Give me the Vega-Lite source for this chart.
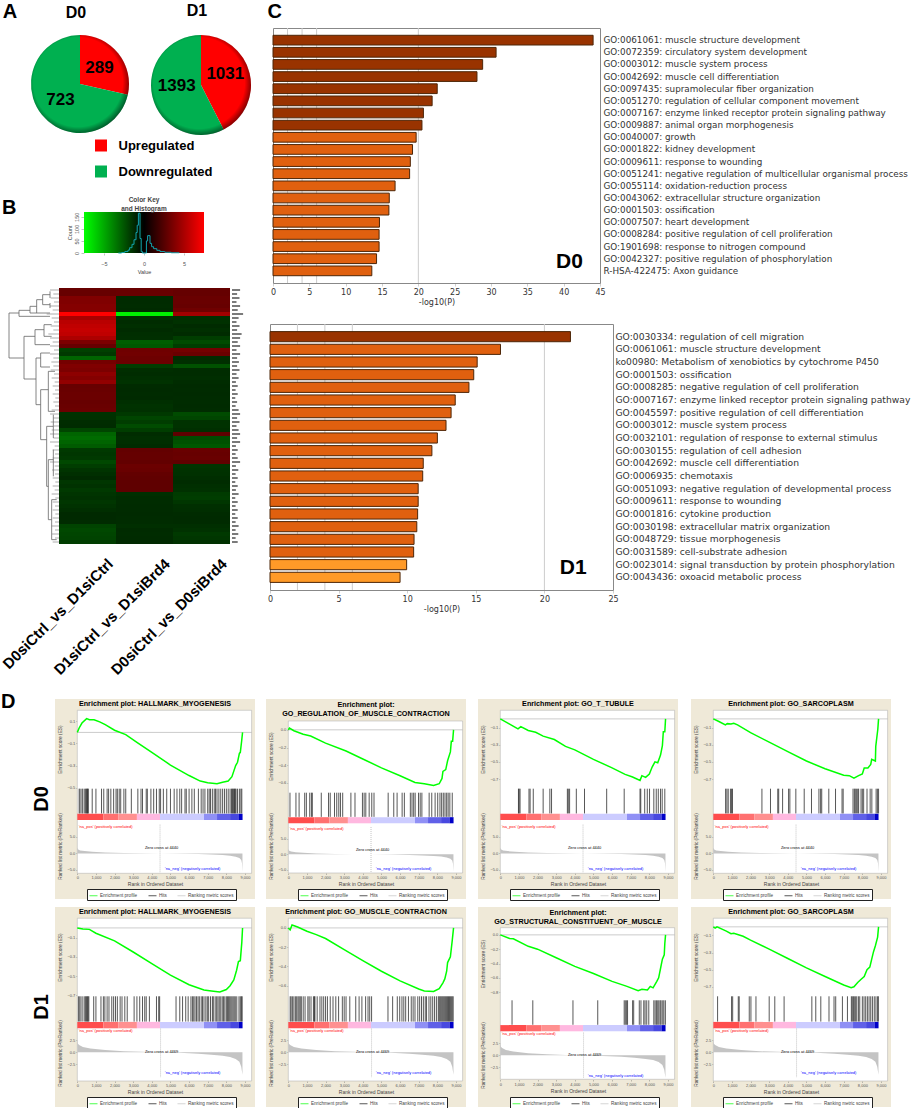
{"$schema":"https://vega.github.io/schema/vega-lite/v6.json","padding":{"left":0,"top":-6,"right":0,"bottom":0},"background":"white","autosize":{"type":"pad"},"bounds":"flush","spacing":0,"resolve":{"scale":{"color":"independent","fill":"independent","theta":"independent"}},
"config":{"view":{"stroke":null},"font":"Liberation Sans","range":{"category":["#00ff00","#111111","#c4c4c4"]},
"legend":{"orient":"none","legendX":32,"legendY":190,"direction":"horizontal","columns":3,"title":null,"fillColor":"#ffffff","strokeColor":"#222222","padding":2,"symbolType":"stroke","symbolSize":64,"labelFontSize":4.6,"labelLimit":100,"symbolStrokeWidth":1,"columnPadding":8,"labelOffset":2,"labelColor":"#444444"},
"axis":{"grid":false,"domain":false,"labelFont":"Liberation Sans","titleFont":"Liberation Sans","labelFontSize":4,"titleFontSize":4.8,"tickSize":1.5,"tickWidth":0.4,"tickColor":"#666666","labelColor":"#555555","titleColor":"#444444","titleFontWeight":"normal","labelPadding":1,"titlePadding":2,"labelOverlap":false,"labelFlush":false},
"title":{"font":"Liberation Sans","fontSize":7.2,"fontWeight":"bold","color":"#000000","offset":0,"lineHeight":9.3}},
"datasets":{"one":[{}],"frame":[{"x":0,"x2":9356}],"zero":[{"r":0,"x":4440},{"r":1,"x":4469}],"keyframe":[{"v":-7.5,"b":7.5,"n":0,"m":170}],
"tag":[{"x":40.8,"t":"GO:0042327: positive regulation of phosphorylation","l":"D0"},{"x":22.1,"t":"GO:0023014: signal transduction by protein phosphorylation","l":"D1"}],
"pie":[{"p":"D0","k":"Upregulated","n":289},{"p":"D0","k":"Downregulated","n":723},{"p":"D1","k":"Upregulated","n":1031},{"p":"D1","k":"Downregulated","n":1393}],
"hist":[{"v":-3.2,"n":0},{"v":-2.8,"n":2},{"v":-2.4,"n":6},{"v":-2,"n":12},{"v":-1.8,"n":22},{"v":-1.5,"n":36},{"v":-1.25,"n":55},{"v":-1,"n":85},{"v":-0.85,"n":115},{"v":-0.7,"n":165},{"v":-0.5,"n":60},{"v":-0.35,"n":6},{"v":-0.2,"n":0},{"v":0.25,"n":0},{"v":0.3,"n":50},{"v":0.45,"n":72},{"v":0.75,"n":40},{"v":0.95,"n":26},{"v":1.2,"n":18},{"v":1.6,"n":11},{"v":2,"n":6},{"v":2.6,"n":3},{"v":3.4,"n":1},{"v":4.4,"n":0}],
"leaf":[{"n":31,"t":150,"e":177},{"n":43,"t":160,"e":177},{"n":55,"t":152,"e":177},{"n":67,"t":162,"e":177},{"n":79,"t":150,"e":177},{"n":91,"t":158,"e":177},{"n":103,"t":140,"e":177},{"n":115,"t":155,"e":177},{"n":127,"t":162,"e":177},{"n":139,"t":152,"e":177},{"n":151,"t":160,"e":177},{"n":163,"t":145,"e":177},{"n":175,"t":150,"e":177},{"n":187,"t":158,"e":177},{"n":199,"t":150,"e":177},{"n":211,"t":162,"e":177},{"n":223,"t":150,"e":177},{"n":235,"t":160,"e":177},{"n":247,"t":154,"e":177},{"n":259,"t":160,"e":177},{"n":271,"t":152,"e":177},{"n":283,"t":162,"e":177},{"n":295,"t":155,"e":177},{"n":307,"t":164,"e":177},{"n":319,"t":158,"e":177},{"n":331,"t":165,"e":177},{"n":343,"t":158,"e":177},{"n":355,"t":166,"e":177},{"n":367,"t":160,"e":177},{"n":379,"t":165,"e":177},{"n":391,"t":155,"e":177},{"n":403,"t":150,"e":177},{"n":415,"t":160,"e":177},{"n":427,"t":152,"e":177},{"n":439,"t":162,"e":177},{"n":451,"t":155,"e":177},{"n":463,"t":150,"e":177},{"n":475,"t":160,"e":177},{"n":487,"t":150,"e":177},{"n":499,"t":164,"e":177},{"n":511,"t":158,"e":177},{"n":523,"t":165,"e":177},{"n":535,"t":158,"e":177},{"n":547,"t":150,"e":177},{"n":559,"t":164,"e":177},{"n":571,"t":156,"e":177},{"n":583,"t":165,"e":177},{"n":595,"t":158,"e":177},{"n":607,"t":166,"e":177},{"n":619,"t":158,"e":177},{"n":631,"t":164,"e":177},{"n":643,"t":155,"e":177},{"n":655,"t":166,"e":177},{"n":667,"t":158,"e":177},{"n":679,"t":165,"e":177},{"n":691,"t":158,"e":177},{"n":703,"t":166,"e":177},{"n":715,"t":158,"e":177},{"n":727,"t":165,"e":177},{"n":739,"t":155,"e":177},{"n":751,"t":165,"e":177},{"n":763,"t":156,"e":177},{"n":775,"t":165,"e":177},{"n":787,"t":158,"e":177}],
"dend":[{"a":27,"b":27,"n":100,"m":235},{"a":27,"b":57,"n":100,"m":100},{"a":57,"b":57,"n":92,"m":110},{"a":57,"b":90,"n":92,"m":92},{"a":57,"b":150,"n":110,"m":110},{"a":90,"b":90,"n":80,"m":100},{"a":90,"b":110,"n":80,"m":80},{"a":90,"b":150,"n":100,"m":100},{"a":110,"b":110,"n":60,"m":100},{"a":110,"b":128,"n":60,"m":60},{"a":128,"b":128,"n":45,"m":75},{"a":128,"b":150,"n":45,"m":45},{"a":128,"b":150,"n":75,"m":75},{"a":150,"b":150,"n":35,"m":55},{"a":150,"b":150,"n":70,"m":85},{"a":27,"b":72,"n":235,"m":235},{"a":72,"b":72,"n":170,"m":298},{"a":72,"b":105,"n":170,"m":170},{"a":105,"b":105,"n":150,"m":195},{"a":105,"b":132,"n":150,"m":150},{"a":105,"b":150,"n":195,"m":195},{"a":132,"b":132,"n":135,"m":170},{"a":132,"b":155,"n":135,"m":135},{"a":132,"b":155,"n":170,"m":170},{"a":72,"b":108,"n":298,"m":298},{"a":108,"b":108,"n":235,"m":375},{"a":108,"b":122,"n":235,"m":235},{"a":122,"b":122,"n":220,"m":262},{"a":122,"b":150,"n":220,"m":220},{"a":122,"b":150,"n":262,"m":262},{"a":108,"b":122,"n":375,"m":375},{"a":122,"b":122,"n":330,"m":480},{"a":122,"b":145,"n":330,"m":330},{"a":145,"b":145,"n":275,"m":395},{"a":145,"b":165,"n":275,"m":275},{"a":145,"b":165,"n":395,"m":395},{"a":122,"b":140,"n":480,"m":480},{"a":140,"b":140,"n":440,"m":620},{"a":140,"b":160,"n":440,"m":440},{"a":160,"b":160,"n":405,"m":475},{"a":140,"b":145,"n":620,"m":620},{"a":145,"b":145,"n":540,"m":720},{"a":145,"b":160,"n":540,"m":540},{"a":160,"b":160,"n":510,"m":590},{"a":145,"b":155,"n":720,"m":720},{"a":155,"b":155,"n":660,"m":780},{"a":155,"b":170,"n":660,"m":660},{"a":155,"b":170,"n":780,"m":780}],
"heat":[{"r":0,"s":"a","v":0.8},{"r":0,"s":"b","v":0.9},{"r":0,"s":"c","v":0.7},{"r":1,"s":"a","v":0.8},{"r":1,"s":"b","v":0.9},{"r":1,"s":"c","v":0.7},{"r":2,"s":"a","v":2},{"r":2,"s":"b","v":-0.5},{"r":2,"s":"c","v":0.9},{"r":3,"s":"a","v":2},{"r":3,"s":"b","v":-0.5},{"r":3,"s":"c","v":0.9},{"r":4,"s":"a","v":2.2},{"r":4,"s":"b","v":-0.6},{"r":4,"s":"c","v":0.8},{"r":5,"s":"a","v":2.2},{"r":5,"s":"b","v":-0.4},{"r":5,"s":"c","v":1.2},{"r":6,"s":"a","v":7.4},{"r":6,"s":"b","v":-7},{"r":6,"s":"c","v":3.5},{"r":7,"s":"a","v":3.8},{"r":7,"s":"b","v":-0.9},{"r":7,"s":"c","v":-0.8},{"r":8,"s":"a","v":4.5},{"r":8,"s":"b","v":-0.6},{"r":8,"s":"c","v":-0.9},{"r":9,"s":"a","v":4.8},{"r":9,"s":"b","v":-0.8},{"r":9,"s":"c","v":-0.5},{"r":10,"s":"a","v":5},{"r":10,"s":"b","v":-0.5},{"r":10,"s":"c","v":-0.8},{"r":11,"s":"a","v":4.8},{"r":11,"s":"b","v":-0.7},{"r":11,"s":"c","v":-0.5},{"r":12,"s":"a","v":4},{"r":12,"s":"b","v":-0.8},{"r":12,"s":"c","v":-1.5},{"r":13,"s":"a","v":1.8},{"r":13,"s":"b","v":-2.6},{"r":13,"s":"c","v":-2},{"r":14,"s":"a","v":0.8},{"r":14,"s":"b","v":-2.4},{"r":14,"s":"c","v":-1.5},{"r":15,"s":"a","v":-1.6},{"r":15,"s":"b","v":1.2},{"r":15,"s":"c","v":1.4},{"r":16,"s":"a","v":-1.3},{"r":16,"s":"b","v":1.3},{"r":16,"s":"c","v":0.9},{"r":17,"s":"a","v":-2.8},{"r":17,"s":"b","v":1.1},{"r":17,"s":"c","v":-0.5},{"r":18,"s":"a","v":1.5},{"r":18,"s":"b","v":1},{"r":18,"s":"c","v":-0.8},{"r":19,"s":"a","v":2},{"r":19,"s":"b","v":-1.5},{"r":19,"s":"c","v":-2.2},{"r":20,"s":"a","v":1.8},{"r":20,"s":"b","v":-0.7},{"r":20,"s":"c","v":-0.6},{"r":21,"s":"a","v":2.6},{"r":21,"s":"b","v":-0.6},{"r":21,"s":"c","v":-0.6},{"r":22,"s":"a","v":2.2},{"r":22,"s":"b","v":-0.8},{"r":22,"s":"c","v":-0.7},{"r":23,"s":"a","v":2.8},{"r":23,"s":"b","v":-1},{"r":23,"s":"c","v":-0.6},{"r":24,"s":"a","v":0.8},{"r":24,"s":"b","v":-0.5},{"r":24,"s":"c","v":-0.4},{"r":25,"s":"a","v":0.9},{"r":25,"s":"b","v":-0.4},{"r":25,"s":"c","v":-0.5},{"r":26,"s":"a","v":1},{"r":26,"s":"b","v":-0.5},{"r":26,"s":"c","v":-0.4},{"r":27,"s":"a","v":1},{"r":27,"s":"b","v":-0.4},{"r":27,"s":"c","v":-0.5},{"r":28,"s":"a","v":0.8},{"r":28,"s":"b","v":-0.8},{"r":28,"s":"c","v":-0.6},{"r":29,"s":"a","v":0.9},{"r":29,"s":"b","v":-1},{"r":29,"s":"c","v":-0.5},{"r":30,"s":"a","v":1},{"r":30,"s":"b","v":-0.9},{"r":30,"s":"c","v":-0.6},{"r":31,"s":"a","v":-1},{"r":31,"s":"b","v":-1.3},{"r":31,"s":"c","v":-2},{"r":32,"s":"a","v":-0.9},{"r":32,"s":"b","v":-1.8},{"r":32,"s":"c","v":-1.8},{"r":33,"s":"a","v":-0.6},{"r":33,"s":"b","v":-1.5},{"r":33,"s":"c","v":-1},{"r":34,"s":"a","v":-0.5},{"r":34,"s":"b","v":-2},{"r":34,"s":"c","v":-1},{"r":35,"s":"a","v":-1.8},{"r":35,"s":"b","v":-1.5},{"r":35,"s":"c","v":-0.8},{"r":36,"s":"a","v":-2.8},{"r":36,"s":"b","v":-0.6},{"r":36,"s":"c","v":0.3},{"r":37,"s":"a","v":-3},{"r":37,"s":"b","v":-0.8},{"r":37,"s":"c","v":-2},{"r":38,"s":"a","v":-2.8},{"r":38,"s":"b","v":-0.7},{"r":38,"s":"c","v":-2.2},{"r":39,"s":"a","v":-2.5},{"r":39,"s":"b","v":-0.5},{"r":39,"s":"c","v":-2.4},{"r":40,"s":"a","v":-1.3},{"r":40,"s":"b","v":0.6},{"r":40,"s":"c","v":0.9},{"r":41,"s":"a","v":-1.2},{"r":41,"s":"b","v":0.7},{"r":41,"s":"c","v":0.8},{"r":42,"s":"a","v":-1.3},{"r":42,"s":"b","v":0.7},{"r":42,"s":"c","v":0.9},{"r":43,"s":"a","v":-1.9},{"r":43,"s":"b","v":0.6},{"r":43,"s":"c","v":0.5},{"r":44,"s":"a","v":-1.5},{"r":44,"s":"b","v":1},{"r":44,"s":"c","v":-1.1},{"r":45,"s":"a","v":-1.1},{"r":45,"s":"b","v":0.9},{"r":45,"s":"c","v":-1},{"r":46,"s":"a","v":-0.8},{"r":46,"s":"b","v":0.6},{"r":46,"s":"c","v":-0.9},{"r":47,"s":"a","v":-0.4},{"r":47,"s":"b","v":0.5},{"r":47,"s":"c","v":-0.7},{"r":48,"s":"a","v":-1.2},{"r":48,"s":"b","v":0.4},{"r":48,"s":"c","v":-0.6},{"r":49,"s":"a","v":-1},{"r":49,"s":"b","v":0.4},{"r":49,"s":"c","v":-0.8},{"r":50,"s":"a","v":-1.3},{"r":50,"s":"b","v":0.4},{"r":50,"s":"c","v":-0.9},{"r":51,"s":"a","v":-1.1},{"r":51,"s":"b","v":-0.8},{"r":51,"s":"c","v":-1.4},{"r":52,"s":"a","v":-0.9},{"r":52,"s":"b","v":-0.6},{"r":52,"s":"c","v":-1.5},{"r":53,"s":"a","v":-1.2},{"r":53,"s":"b","v":-0.6},{"r":53,"s":"c","v":-1.2},{"r":54,"s":"a","v":-1},{"r":54,"s":"b","v":-0.5},{"r":54,"s":"c","v":-0.8},{"r":55,"s":"a","v":-0.7},{"r":55,"s":"b","v":-0.5},{"r":55,"s":"c","v":-0.7},{"r":56,"s":"a","v":-0.3},{"r":56,"s":"b","v":-0.4},{"r":56,"s":"c","v":-0.5},{"r":57,"s":"a","v":-0.3},{"r":57,"s":"b","v":-0.5},{"r":57,"s":"c","v":-0.4},{"r":58,"s":"a","v":-0.5},{"r":58,"s":"b","v":-0.6},{"r":58,"s":"c","v":-0.5},{"r":59,"s":"a","v":-1.7},{"r":59,"s":"b","v":-0.8},{"r":59,"s":"c","v":-0.8},{"r":60,"s":"a","v":-1.9},{"r":60,"s":"b","v":-0.5},{"r":60,"s":"c","v":-1},{"r":61,"s":"a","v":-1.8},{"r":61,"s":"b","v":-0.6},{"r":61,"s":"c","v":-1.3},{"r":62,"s":"a","v":-1.7},{"r":62,"s":"b","v":-0.5},{"r":62,"s":"c","v":-1.2},{"r":63,"s":"a","v":-1.5},{"r":63,"s":"b","v":-0.3},{"r":63,"s":"c","v":-0.9}],
"thr":[{"v":2},{"v":4},{"v":6},{"v":20}],
"d0":[{"t":"GO:0061061: muscle structure development","v":44.05,"g":"h"},{"t":"GO:0072359: circulatory system development","v":30.7,"g":"h"},{"t":"GO:0003012: muscle system process","v":28.85,"g":"h"},{"t":"GO:0042692: muscle cell differentiation","v":28.07,"g":"h"},{"t":"GO:0097435: supramolecular fiber organization","v":22.6,"g":"h"},{"t":"GO:0051270: regulation of cellular component movement","v":21.9,"g":"h"},{"t":"GO:0007167: enzyme linked receptor protein signaling pathway","v":20.7,"g":"h"},{"t":"GO:0009887: animal organ morphogenesis","v":20.5,"g":"h"},{"t":"GO:0040007: growth","v":19.7,"g":"m"},{"t":"GO:0001822: kidney development","v":19.2,"g":"m"},{"t":"GO:0009611: response to wounding","v":18.9,"g":"m"},{"t":"GO:0051241: negative regulation of multicellular organismal process","v":18.8,"g":"m"},{"t":"GO:0055114: oxidation-reduction process","v":16.8,"g":"m"},{"t":"GO:0043062: extracellular structure organization","v":16,"g":"m"},{"t":"GO:0001503: ossification","v":15.95,"g":"m"},{"t":"GO:0007507: heart development","v":14.65,"g":"m"},{"t":"GO:0008284: positive regulation of cell proliferation","v":14.6,"g":"m"},{"t":"GO:1901698: response to nitrogen compound","v":14.6,"g":"m"},{"t":"GO:0042327: positive regulation of phosphorylation","v":14.25,"g":"m"},{"t":"R-HSA-422475: Axon guidance","v":13.6,"g":"m"}],
"d1":[{"t":"GO:0030334: regulation of cell migration","v":21.9,"g":"h"},{"t":"GO:0061061: muscle structure development","v":16.8,"g":"m"},{"t":"ko00980: Metabolism of xenobiotics by cytochrome P450","v":15.1,"g":"m"},{"t":"GO:0001503: ossification","v":14.85,"g":"m"},{"t":"GO:0008285: negative regulation of cell proliferation","v":14.5,"g":"m"},{"t":"GO:0007167: enzyme linked receptor protein signaling pathway","v":13.5,"g":"m"},{"t":"GO:0045597: positive regulation of cell differentiation","v":13.2,"g":"m"},{"t":"GO:0003012: muscle system process","v":12.83,"g":"m"},{"t":"GO:0032101: regulation of response to external stimulus","v":12.2,"g":"m"},{"t":"GO:0030155: regulation of cell adhesion","v":11.8,"g":"m"},{"t":"GO:0042692: muscle cell differentiation","v":11.17,"g":"m"},{"t":"GO:0006935: chemotaxis","v":11.13,"g":"m"},{"t":"GO:0051093: negative regulation of developmental process","v":10.8,"g":"m"},{"t":"GO:0009611: response to wounding","v":10.8,"g":"m"},{"t":"GO:0001816: cytokine production","v":10.76,"g":"m"},{"t":"GO:0030198: extracellular matrix organization","v":10.7,"g":"m"},{"t":"GO:0048729: tissue morphogenesis","v":10.5,"g":"m"},{"t":"GO:0031589: cell-substrate adhesion","v":10.47,"g":"m"},{"t":"GO:0023014: signal transduction by protein phosphorylation","v":9.96,"g":"l"},{"t":"GO:0043436: oxoacid metabolic process","v":9.48,"g":"l"}],
"band":[{"x":0,"x2":1400,"s":"a"},{"x":1400,"x2":2200,"s":"b"},{"x":2200,"x2":3200,"s":"c"},{"x":3200,"x2":4440,"s":"d"},{"x":4440,"x2":6800,"s":"e"},{"x":6800,"x2":7500,"s":"f"},{"x":7500,"x2":8200,"s":"g"},{"x":8200,"x2":8650,"s":"h"},{"x":8650,"x2":8870,"s":"i"}],
"rank":[{"r":0,"x":0,"m":1.7},{"r":0,"x":50,"m":1.2},{"r":0,"x":150,"m":0.9},{"r":0,"x":400,"m":0.7},{"r":0,"x":800,"m":0.5},{"r":0,"x":1500,"m":0.3},{"r":0,"x":2500,"m":0.15},{"r":0,"x":3500,"m":0.05},{"r":0,"x":4440,"m":0},{"r":0,"x":5500,"m":-0.08},{"r":0,"x":6500,"m":-0.2},{"r":0,"x":7200,"m":-0.35},{"r":0,"x":7800,"m":-0.5},{"r":0,"x":8200,"m":-0.7},{"r":0,"x":8500,"m":-1},{"r":0,"x":8700,"m":-1.4},{"r":0,"x":8800,"m":-2},{"r":0,"x":8840,"m":-3},{"r":0,"x":8865,"m":-5.6},{"r":1,"x":0,"m":2.7},{"r":1,"x":30,"m":1.8},{"r":1,"x":100,"m":1.5},{"r":1,"x":300,"m":1.1},{"r":1,"x":700,"m":0.8},{"r":1,"x":1500,"m":0.45},{"r":1,"x":2500,"m":0.2},{"r":1,"x":3500,"m":0.08},{"r":1,"x":4469,"m":0},{"r":1,"x":5500,"m":-0.12},{"r":1,"x":6500,"m":-0.3},{"r":1,"x":7200,"m":-0.5},{"r":1,"x":7800,"m":-0.75},{"r":1,"x":8200,"m":-1},{"r":1,"x":8500,"m":-1.4},{"r":1,"x":8700,"m":-2},{"r":1,"x":8800,"m":-3},{"r":1,"x":8865,"m":-4.7}],
"notes":[{"r":0,"x":80,"y":8.07,"k":"pos","t":"'na_pos' (positively correlated)"},{"r":0,"x":4700,"y":-4.6,"k":"neg","t":"'na_neg' (negatively correlated)"},{"r":0,"x":3630,"y":1.55,"k":"zero","t":"Zero cross at 4440"},{"r":1,"x":80,"y":4.49,"k":"pos","t":"'na_pos' (positively correlated)"},{"r":1,"x":4700,"y":-4.36,"k":"neg","t":"'na_neg' (negatively correlated)"},{"r":1,"x":3630,"y":0,"k":"zero","t":"Zero cross at 4469"}],
"es":[{"c":1,"x":0,"y":0},{"c":1,"x":100,"y":0.04},{"c":1,"x":250,"y":0.085},{"c":1,"x":500,"y":0.125},{"c":1,"x":650,"y":0.115},{"c":1,"x":900,"y":0.115},{"c":1,"x":1200,"y":0.095},{"c":1,"x":1500,"y":0.07},{"c":1,"x":2000,"y":0.02},{"c":1,"x":2600,"y":-0.02},{"c":1,"x":3200,"y":-0.09},{"c":1,"x":4000,"y":-0.18},{"c":1,"x":5000,"y":-0.295},{"c":1,"x":6000,"y":-0.39},{"c":1,"x":6600,"y":-0.44},{"c":1,"x":7000,"y":-0.455},{"c":1,"x":7500,"y":-0.465},{"c":1,"x":7800,"y":-0.45},{"c":1,"x":8100,"y":-0.44},{"c":1,"x":8300,"y":-0.4},{"c":1,"x":8500,"y":-0.3},{"c":1,"x":8600,"y":-0.27},{"c":1,"x":8700,"y":-0.19},{"c":1,"x":8750,"y":-0.18},{"c":1,"x":8820,"y":-0.08},{"c":1,"x":8870,"y":0},
{"c":2,"x":0,"y":0},{"c":2,"x":60,"y":0.02},{"c":2,"x":300,"y":-0.01},{"c":2,"x":800,"y":-0.05},{"c":2,"x":1200,"y":-0.07},{"c":2,"x":2000,"y":-0.15},{"c":2,"x":3100,"y":-0.24},{"c":2,"x":4000,"y":-0.33},{"c":2,"x":5000,"y":-0.43},{"c":2,"x":6000,"y":-0.52},{"c":2,"x":6800,"y":-0.595},{"c":2,"x":7300,"y":-0.61},{"c":2,"x":7800,"y":-0.63},{"c":2,"x":8100,"y":-0.61},{"c":2,"x":8250,"y":-0.55},{"c":2,"x":8300,"y":-0.47},{"c":2,"x":8450,"y":-0.45},{"c":2,"x":8550,"y":-0.35},{"c":2,"x":8700,"y":-0.25},{"c":2,"x":8750,"y":-0.13},{"c":2,"x":8820,"y":-0.13},{"c":2,"x":8870,"y":0},
{"c":3,"x":0,"y":0},{"c":3,"x":500,"y":-0.06},{"c":3,"x":950,"y":-0.115},{"c":3,"x":1100,"y":-0.09},{"c":3,"x":1500,"y":-0.135},{"c":3,"x":1900,"y":-0.155},{"c":3,"x":2300,"y":-0.2},{"c":3,"x":2900,"y":-0.24},{"c":3,"x":3500,"y":-0.32},{"c":3,"x":4000,"y":-0.36},{"c":3,"x":5000,"y":-0.47},{"c":3,"x":6000,"y":-0.57},{"c":3,"x":6700,"y":-0.645},{"c":3,"x":7100,"y":-0.675},{"c":3,"x":7500,"y":-0.715},{"c":3,"x":7600,"y":-0.66},{"c":3,"x":7800,"y":-0.68},{"c":3,"x":8000,"y":-0.64},{"c":3,"x":8150,"y":-0.56},{"c":3,"x":8300,"y":-0.5},{"c":3,"x":8450,"y":-0.51},{"c":3,"x":8600,"y":-0.42},{"c":3,"x":8700,"y":-0.31},{"c":3,"x":8750,"y":-0.15},{"c":3,"x":8830,"y":-0.15},{"c":3,"x":8870,"y":0},
{"c":4,"x":0,"y":0},{"c":4,"x":300,"y":-0.03},{"c":4,"x":650,"y":-0.07},{"c":4,"x":750,"y":-0.055},{"c":4,"x":950,"y":-0.06},{"c":4,"x":1100,"y":-0.05},{"c":4,"x":1300,"y":-0.07},{"c":4,"x":2000,"y":-0.16},{"c":4,"x":3000,"y":-0.27},{"c":4,"x":4000,"y":-0.38},{"c":4,"x":5000,"y":-0.49},{"c":4,"x":6000,"y":-0.58},{"c":4,"x":7000,"y":-0.655},{"c":4,"x":7300,"y":-0.66},{"c":4,"x":7550,"y":-0.69},{"c":4,"x":7800,"y":-0.66},{"c":4,"x":8000,"y":-0.64},{"c":4,"x":8100,"y":-0.57},{"c":4,"x":8300,"y":-0.57},{"c":4,"x":8450,"y":-0.53},{"c":4,"x":8500,"y":-0.47},{"c":4,"x":8700,"y":-0.49},{"c":4,"x":8720,"y":-0.32},{"c":4,"x":8830,"y":-0.12},{"c":4,"x":8870,"y":0},
{"c":5,"x":0,"y":0},{"c":5,"x":300,"y":-0.01},{"c":5,"x":650,"y":-0.015},{"c":5,"x":1000,"y":-0.055},{"c":5,"x":2000,"y":-0.135},{"c":5,"x":3000,"y":-0.25},{"c":5,"x":4000,"y":-0.37},{"c":5,"x":5000,"y":-0.49},{"c":5,"x":6000,"y":-0.59},{"c":5,"x":6800,"y":-0.645},{"c":5,"x":7200,"y":-0.655},{"c":5,"x":7650,"y":-0.665},{"c":5,"x":8000,"y":-0.64},{"c":5,"x":8200,"y":-0.6},{"c":5,"x":8400,"y":-0.54},{"c":5,"x":8550,"y":-0.44},{"c":5,"x":8650,"y":-0.35},{"c":5,"x":8750,"y":-0.34},{"c":5,"x":8830,"y":-0.15},{"c":5,"x":8870,"y":0},
{"c":6,"x":0,"y":0},{"c":6,"x":100,"y":-0.02},{"c":6,"x":200,"y":0.03},{"c":6,"x":500,"y":0.01},{"c":6,"x":1000,"y":-0.035},{"c":6,"x":1500,"y":-0.07},{"c":6,"x":2000,"y":-0.11},{"c":6,"x":3000,"y":-0.225},{"c":6,"x":4000,"y":-0.34},{"c":6,"x":5000,"y":-0.45},{"c":6,"x":6000,"y":-0.55},{"c":6,"x":7000,"y":-0.635},{"c":6,"x":7300,"y":-0.655},{"c":6,"x":7800,"y":-0.66},{"c":6,"x":8100,"y":-0.63},{"c":6,"x":8300,"y":-0.57},{"c":6,"x":8400,"y":-0.53},{"c":6,"x":8500,"y":-0.45},{"c":6,"x":8550,"y":-0.36},{"c":6,"x":8700,"y":-0.3},{"c":6,"x":8800,"y":-0.13},{"c":6,"x":8870,"y":0},
{"c":7,"x":0,"y":0},{"c":7,"x":500,"y":-0.05},{"c":7,"x":700,"y":-0.055},{"c":7,"x":1500,"y":-0.16},{"c":7,"x":2000,"y":-0.2},{"c":7,"x":3000,"y":-0.32},{"c":7,"x":4000,"y":-0.44},{"c":7,"x":5000,"y":-0.54},{"c":7,"x":6000,"y":-0.65},{"c":7,"x":6800,"y":-0.72},{"c":7,"x":7400,"y":-0.78},{"c":7,"x":7600,"y":-0.76},{"c":7,"x":7900,"y":-0.77},{"c":7,"x":8050,"y":-0.72},{"c":7,"x":8200,"y":-0.74},{"c":7,"x":8400,"y":-0.65},{"c":7,"x":8500,"y":-0.6},{"c":7,"x":8600,"y":-0.47},{"c":7,"x":8700,"y":-0.34},{"c":7,"x":8800,"y":-0.28},{"c":7,"x":8830,"y":-0.12},{"c":7,"x":8870,"y":0},
{"c":8,"x":0,"y":0},{"c":8,"x":100,"y":-0.015},{"c":8,"x":200,"y":0},{"c":8,"x":700,"y":-0.05},{"c":8,"x":950,"y":-0.08},{"c":8,"x":1100,"y":-0.075},{"c":8,"x":1600,"y":-0.11},{"c":8,"x":2000,"y":-0.155},{"c":8,"x":3000,"y":-0.26},{"c":8,"x":4000,"y":-0.37},{"c":8,"x":5000,"y":-0.48},{"c":8,"x":6000,"y":-0.58},{"c":8,"x":7000,"y":-0.68},{"c":8,"x":7400,"y":-0.71},{"c":8,"x":7550,"y":-0.7},{"c":8,"x":7750,"y":-0.65},{"c":8,"x":7950,"y":-0.61},{"c":8,"x":8100,"y":-0.58},{"c":8,"x":8250,"y":-0.5},{"c":8,"x":8400,"y":-0.47},{"c":8,"x":8500,"y":-0.38},{"c":8,"x":8600,"y":-0.29},{"c":8,"x":8700,"y":-0.22},{"c":8,"x":8820,"y":-0.12},{"c":8,"x":8870,"y":0}],
"hits":[{"c":1,"x":100},{"c":1,"x":150},{"c":1,"x":250},{"c":1,"x":300},{"c":1,"x":400},{"c":1,"x":450},{"c":1,"x":500},{"c":1,"x":530},{"c":1,"x":560},{"c":1,"x":590},{"c":1,"x":800},{"c":1,"x":1000},{"c":1,"x":1300},{"c":1,"x":1420},{"c":1,"x":1600},{"c":1,"x":1680},{"c":1,"x":1800},{"c":1,"x":1950},{"c":1,"x":2080},{"c":1,"x":2150},{"c":1,"x":2250},{"c":1,"x":2330},{"c":1,"x":2500},{"c":1,"x":2600},{"c":1,"x":2900},{"c":1,"x":3250},{"c":1,"x":3420},{"c":1,"x":3500},{"c":1,"x":3700},{"c":1,"x":3760},{"c":1,"x":3950},{"c":1,"x":4100},{"c":1,"x":4250},{"c":1,"x":4400},{"c":1,"x":4470},{"c":1,"x":4620},{"c":1,"x":4800},{"c":1,"x":5000},{"c":1,"x":5200},{"c":1,"x":5350},{"c":1,"x":5500},{"c":1,"x":5600},{"c":1,"x":5780},{"c":1,"x":5850},{"c":1,"x":6000},{"c":1,"x":6150},{"c":1,"x":6280},{"c":1,"x":6500},{"c":1,"x":6650},{"c":1,"x":6750},{"c":1,"x":6850},{"c":1,"x":7000},{"c":1,"x":7080},{"c":1,"x":7150},{"c":1,"x":7250},{"c":1,"x":7350},{"c":1,"x":7420},{"c":1,"x":7500},{"c":1,"x":7600},{"c":1,"x":7700},{"c":1,"x":7800},{"c":1,"x":7900},{"c":1,"x":8000},{"c":1,"x":8100},{"c":1,"x":8200},{"c":1,"x":8280},{"c":1,"x":8320},{"c":1,"x":8360},{"c":1,"x":8400},{"c":1,"x":8440},{"c":1,"x":8480},{"c":1,"x":8520},{"c":1,"x":8600},{"c":1,"x":8700},{"c":1,"x":8780},{"c":1,"x":8830},
{"c":2,"x":90},{"c":2,"x":410},{"c":2,"x":580},{"c":2,"x":880},{"c":2,"x":970},{"c":2,"x":1150},{"c":2,"x":1240},{"c":2,"x":1290},{"c":2,"x":1770},{"c":2,"x":2160},{"c":2,"x":2250},{"c":2,"x":2480},{"c":2,"x":2600},{"c":2,"x":2710},{"c":2,"x":2800},{"c":2,"x":2920},{"c":2,"x":3360},{"c":2,"x":3580},{"c":2,"x":3980},{"c":2,"x":4070},{"c":2,"x":4160},{"c":2,"x":4340},{"c":2,"x":4480},{"c":2,"x":4600},{"c":2,"x":5360},{"c":2,"x":5660},{"c":2,"x":5840},{"c":2,"x":6110},{"c":2,"x":6230},{"c":2,"x":6550},{"c":2,"x":6640},{"c":2,"x":6730},{"c":2,"x":6810},{"c":2,"x":6990},{"c":2,"x":7080},{"c":2,"x":7170},{"c":2,"x":7560},{"c":2,"x":7700},{"c":2,"x":7880},{"c":2,"x":8020},{"c":2,"x":8140},{"c":2,"x":8230},{"c":2,"x":8320},{"c":2,"x":8410},{"c":2,"x":8500},{"c":2,"x":8580},{"c":2,"x":8670},{"c":2,"x":8800},
{"c":3,"x":975},{"c":3,"x":1010},{"c":3,"x":1060},{"c":3,"x":1540},{"c":3,"x":1600},{"c":3,"x":1770},{"c":3,"x":2300},{"c":3,"x":2660},{"c":3,"x":2750},{"c":3,"x":3600},{"c":3,"x":3650},{"c":3,"x":3720},{"c":3,"x":4080},{"c":3,"x":4520},{"c":3,"x":5710},{"c":3,"x":6650},{"c":3,"x":7500},{"c":3,"x":7540},{"c":3,"x":7750},{"c":3,"x":7890},{"c":3,"x":8010},{"c":3,"x":8240},{"c":3,"x":8370},{"c":3,"x":8480},{"c":3,"x":8600},{"c":3,"x":8690},{"c":3,"x":8830},
{"c":4,"x":660},{"c":4,"x":730},{"c":4,"x":800},{"c":4,"x":920},{"c":4,"x":980},{"c":4,"x":1030},{"c":4,"x":2610},{"c":4,"x":3070},{"c":4,"x":3460},{"c":4,"x":3510},{"c":4,"x":3720},{"c":4,"x":4040},{"c":4,"x":4110},{"c":4,"x":4430},{"c":4,"x":4880},{"c":4,"x":5270},{"c":4,"x":5670},{"c":4,"x":5760},{"c":4,"x":5820},{"c":4,"x":6200},{"c":4,"x":6560},{"c":4,"x":6910},{"c":4,"x":6970},{"c":4,"x":7500},{"c":4,"x":7570},{"c":4,"x":7620},{"c":4,"x":7680},{"c":4,"x":7750},{"c":4,"x":7800},{"c":4,"x":7930},{"c":4,"x":8000},{"c":4,"x":8070},{"c":4,"x":8250},{"c":4,"x":8420},{"c":4,"x":8510},{"c":4,"x":8740},{"c":4,"x":8810},{"c":4,"x":8870},
{"c":5,"x":60},{"c":5,"x":130},{"c":5,"x":200},{"c":5,"x":300},{"c":5,"x":400},{"c":5,"x":450},{"c":5,"x":500},{"c":5,"x":540},{"c":5,"x":580},{"c":5,"x":620},{"c":5,"x":880},{"c":5,"x":1000},{"c":5,"x":1270},{"c":5,"x":1400},{"c":5,"x":1480},{"c":5,"x":1600},{"c":5,"x":1700},{"c":5,"x":1850},{"c":5,"x":1950},{"c":5,"x":2050},{"c":5,"x":2150},{"c":5,"x":2300},{"c":5,"x":2400},{"c":5,"x":2550},{"c":5,"x":2680},{"c":5,"x":3050},{"c":5,"x":3200},{"c":5,"x":3350},{"c":5,"x":3500},{"c":5,"x":3620},{"c":5,"x":3700},{"c":5,"x":3870},{"c":5,"x":4250},{"c":5,"x":4370},{"c":5,"x":4420},{"c":5,"x":5300},{"c":5,"x":5500},{"c":5,"x":5650},{"c":5,"x":5820},{"c":5,"x":5950},{"c":5,"x":6100},{"c":5,"x":6180},{"c":5,"x":6250},{"c":5,"x":6320},{"c":5,"x":6400},{"c":5,"x":6480},{"c":5,"x":6550},{"c":5,"x":6650},{"c":5,"x":6720},{"c":5,"x":6800},{"c":5,"x":6900},{"c":5,"x":6980},{"c":5,"x":7050},{"c":5,"x":7150},{"c":5,"x":7250},{"c":5,"x":7300},{"c":5,"x":7400},{"c":5,"x":7480},{"c":5,"x":7550},{"c":5,"x":7620},{"c":5,"x":7700},{"c":5,"x":7780},{"c":5,"x":7850},{"c":5,"x":7920},{"c":5,"x":8000},{"c":5,"x":8060},{"c":5,"x":8120},{"c":5,"x":8180},{"c":5,"x":8240},{"c":5,"x":8300},{"c":5,"x":8360},{"c":5,"x":8420},{"c":5,"x":8480},{"c":5,"x":8560},{"c":5,"x":8680},{"c":5,"x":8750},{"c":5,"x":8810},{"c":5,"x":8850},
{"c":6,"x":100},{"c":6,"x":150},{"c":6,"x":220},{"c":6,"x":300},{"c":6,"x":380},{"c":6,"x":450},{"c":6,"x":520},{"c":6,"x":580},{"c":6,"x":640},{"c":6,"x":700},{"c":6,"x":800},{"c":6,"x":900},{"c":6,"x":1050},{"c":6,"x":1120},{"c":6,"x":1220},{"c":6,"x":1350},{"c":6,"x":1400},{"c":6,"x":1430},{"c":6,"x":1550},{"c":6,"x":1700},{"c":6,"x":1800},{"c":6,"x":1900},{"c":6,"x":2000},{"c":6,"x":2100},{"c":6,"x":2250},{"c":6,"x":2400},{"c":6,"x":2550},{"c":6,"x":2700},{"c":6,"x":2900},{"c":6,"x":3000},{"c":6,"x":3100},{"c":6,"x":3300},{"c":6,"x":3620},{"c":6,"x":3800},{"c":6,"x":3950},{"c":6,"x":4150},{"c":6,"x":4280},{"c":6,"x":4370},{"c":6,"x":4470},{"c":6,"x":5350},{"c":6,"x":5600},{"c":6,"x":5850},{"c":6,"x":5980},{"c":6,"x":6100},{"c":6,"x":6200},{"c":6,"x":6300},{"c":6,"x":6450},{"c":6,"x":6600},{"c":6,"x":6700},{"c":6,"x":6800},{"c":6,"x":6950},{"c":6,"x":7050},{"c":6,"x":7150},{"c":6,"x":7250},{"c":6,"x":7350},{"c":6,"x":7420},{"c":6,"x":7550},{"c":6,"x":7650},{"c":6,"x":7750},{"c":6,"x":7850},{"c":6,"x":7950},{"c":6,"x":8050},{"c":6,"x":8100},{"c":6,"x":8150},{"c":6,"x":8200},{"c":6,"x":8250},{"c":6,"x":8300},{"c":6,"x":8350},{"c":6,"x":8400},{"c":6,"x":8450},{"c":6,"x":8500},{"c":6,"x":8550},{"c":6,"x":8600},{"c":6,"x":8650},{"c":6,"x":8700},{"c":6,"x":8750},{"c":6,"x":8800},{"c":6,"x":8850},
{"c":7,"x":630},{"c":7,"x":1745},{"c":7,"x":3900},{"c":7,"x":5230},{"c":7,"x":6650},{"c":7,"x":6710},{"c":7,"x":6780},{"c":7,"x":6830},{"c":7,"x":7100},{"c":7,"x":7160},{"c":7,"x":7460},{"c":7,"x":7550},{"c":7,"x":7700},{"c":7,"x":7770},{"c":7,"x":7860},{"c":7,"x":7970},{"c":7,"x":8240},{"c":7,"x":8310},{"c":7,"x":8380},{"c":7,"x":8450},{"c":7,"x":8510},{"c":7,"x":8580},{"c":7,"x":8630},{"c":7,"x":8720},{"c":7,"x":8780},{"c":7,"x":8860},
{"c":8,"x":230},{"c":8,"x":980},{"c":8,"x":1040},{"c":8,"x":1340},{"c":8,"x":1390},{"c":8,"x":1930},{"c":8,"x":2020},{"c":8,"x":2290},{"c":8,"x":3000},{"c":8,"x":3300},{"c":8,"x":3800},{"c":8,"x":5290},{"c":8,"x":5500},{"c":8,"x":5770},{"c":8,"x":6210},{"c":8,"x":6480},{"c":8,"x":6570},{"c":8,"x":6930},{"c":8,"x":7200},{"c":8,"x":7410},{"c":8,"x":7460},{"c":8,"x":7520},{"c":8,"x":7570},{"c":8,"x":7640},{"c":8,"x":7700},{"c":8,"x":7790},{"c":8,"x":7860},{"c":8,"x":8000},{"c":8,"x":8090},{"c":8,"x":8180},{"c":8,"x":8270},{"c":8,"x":8360},{"c":8,"x":8450},{"c":8,"x":8540},{"c":8,"x":8640},{"c":8,"x":8730},{"c":8,"x":8820},{"c":8,"x":8860}]},
"vconcat":[
{"hconcat":[
{"vconcat":[
{"hconcat":[
{"width":20,"height":24,"data":{"name":"one"},"mark":{"type":"text","text":"A","fontSize":20,"fontWeight":"bold","align":"center","baseline":"middle"},"encoding":{}},
{"width":40.5,"height":1,"data":{"name":"one"},"mark":"text","encoding":{}},
{"width":30,"height":26,"data":{"name":"one"},"mark":{"type":"text","text":"D0","fontSize":16,"fontWeight":"bold","align":"center","baseline":"middle"},"encoding":{}},
{"width":90.5,"height":1,"data":{"name":"one"},"mark":"text","encoding":{}},
{"width":30,"height":22,"data":{"name":"one"},"mark":{"type":"text","text":"D1","fontSize":16,"fontWeight":"bold","align":"center","baseline":"middle"},"encoding":{}}
],"bounds":"flush","spacing":0,"resolve":{"scale":{"color":"independent","fill":"independent","theta":"independent"}}},
{"width":1,"height":35,"data":{"name":"one"},"mark":"text","encoding":{}},
{"hconcat":[
{"width":30.5,"height":1,"data":{"name":"one"},"mark":"text","encoding":{}},
{"width":98,"height":98,"data":{"name":"pie"},"transform":[{"filter":"datum.p=='D0'"}],"layer":[
{"mark":{"type":"arc","outerRadius":49},"encoding":{"theta":{"field":"n","type":"quantitative","stack":true},"order":{"field":"k","sort":"descending"},"color":{"field":"k","type":"nominal","scale":{"domain":["Upregulated","Downregulated"],"range":["#ff0000","#00b050"]},"legend":{"orient":"none","legendX":63.5,"legendY":104,"direction":"vertical","columns":1,"title":null,"fillColor":"transparent","strokeColor":"transparent","symbolType":"square","symbolSize":144,"symbolStrokeWidth":0,"labelFontSize":13,"labelFontWeight":"bold","labelFont":"Liberation Sans","labelColor":"#000000","rowPadding":12,"labelOffset":11,"padding":0}}}},
{"data":{"name":"one"},"mark":{"type":"arc","outerRadius":49,"theta":0,"theta2":6.2832,"fill":{"gradient":"radial","x1":0.48,"y1":0.48,"r1":0,"x2":0.48,"y2":0.48,"r2":0.53,"stops":[{"offset":0.86,"color":"rgba(0,0,0,0)"},{"offset":1,"color":"rgba(0,0,0,0.5)"}]}},"encoding":{}},
{"mark":{"type":"text","radius":25,"fontSize":17,"fontWeight":"bold"},"encoding":{"theta":{"field":"n","type":"quantitative","stack":true},"order":{"field":"k","sort":"descending"},"text":{"field":"n"},"color":{"value":"#000000"}}}]},
{"width":21.5,"height":1,"data":{"name":"one"},"mark":"text","encoding":{}},
{"width":100,"height":100,"data":{"name":"pie"},"transform":[{"filter":"datum.p=='D1'"}],"layer":[
{"mark":{"type":"arc","outerRadius":50},"encoding":{"theta":{"field":"n","type":"quantitative","stack":true},"order":{"field":"k","sort":"descending"},"color":{"field":"k","type":"nominal","scale":{"domain":["Upregulated","Downregulated"],"range":["#ff0000","#00b050"]},"legend":null}}},
{"data":{"name":"one"},"mark":{"type":"arc","outerRadius":50,"theta":0,"theta2":6.2832,"fill":{"gradient":"radial","x1":0.48,"y1":0.48,"r1":0,"x2":0.48,"y2":0.48,"r2":0.53,"stops":[{"offset":0.86,"color":"rgba(0,0,0,0)"},{"offset":1,"color":"rgba(0,0,0,0.5)"}]}},"encoding":{}},
{"mark":{"type":"text","radius":25,"dy":-5,"fontSize":17,"fontWeight":"bold"},"encoding":{"theta":{"field":"n","type":"quantitative","stack":true},"order":{"field":"k","sort":"descending"},"text":{"field":"n"},"color":{"value":"#000000"}}}]}
],"bounds":"flush","spacing":0,"resolve":{"scale":{"color":"independent","fill":"independent","theta":"independent"}}},
{"width":1,"height":177,"data":{"name":"one"},"mark":"text","encoding":{}},
{"hconcat":[
{"width":84,"height":1,"title":{"text":"B","fontSize":20,"anchor":"start","offset":0,"dy":11,"dx":2},"data":{"name":"one"},"mark":"text","encoding":{}},
{"width":120,"height":41,"title":{"text":["Color Key","and Histogram"],"fontSize":6.5,"color":"#444444","lineHeight":8.3,"offset":-1},"encoding":{"x":{"field":"v","type":"quantitative","scale":{"domain":[-7.5,7.5],"nice":false},"axis":{"values":[-5,0,5],"title":"Value","labelFontSize":5.5,"titleFontSize":5.5,"tickSize":2,"labelPadding":6,"titlePadding":3}},"y":{"field":"n","type":"quantitative","scale":{"domain":[0,170],"nice":false},"axis":{"values":[0,50,100,150],"title":"Count","labelFontSize":5.5,"titleFontSize":5.5,"labelAngle":-90,"labelAlign":"center","labelBaseline":"bottom","tickSize":3,"labelPadding":2,"titlePadding":2}}},"layer":[
{"data":{"name":"keyframe"},"mark":{"type":"rect","fill":{"gradient":"linear","x1":0,"x2":1,"y1":0,"y2":0,"stops":[{"offset":0,"color":"#00ff00"},{"offset":0.5,"color":"#000000"},{"offset":1,"color":"#ff0000"}]}},"encoding":{"x2":{"field":"b"},"y2":{"field":"m"}}},
{"data":{"name":"hist"},"mark":{"type":"line","interpolate":"step-after","stroke":"#12a3ad","strokeWidth":1}}]}
],"bounds":"flush","spacing":0,"resolve":{"scale":{"color":"independent","fill":"independent","theta":"independent"}}},
{"width":1,"height":76,"data":{"name":"one"},"mark":"text","encoding":{}},
{"hconcat":[
{"width":9,"height":1,"data":{"name":"one"},"mark":"text","encoding":{}},
{"width":50,"height":255,"layer":[
{"data":{"name":"dend"},"mark":{"type":"rule","stroke":"#666666","strokeWidth":0.8},"encoding":{"x":{"field":"a","type":"quantitative","scale":{"domain":[27,177],"nice":false,"zero":false},"axis":null},"x2":{"field":"b"},"y":{"field":"n","type":"quantitative","scale":{"domain":[25,790],"reverse":true,"nice":false,"zero":false},"axis":null},"y2":{"field":"m"}}},
{"data":{"name":"leaf"},"mark":{"type":"rule","stroke":"#777777","strokeWidth":0.6},"encoding":{"x":{"field":"e","type":"quantitative","axis":null},"x2":{"field":"t"},"y":{"field":"n","type":"quantitative","axis":null}}}]},
{"width":171,"height":256,"data":{"name":"heat"},"mark":"rect","encoding":{"x":{"field":"s","type":"nominal","scale":{"paddingInner":0,"paddingOuter":0},"axis":{"labelExpr":"{a:'D0siCtrl_vs_D1siCtrl',b:'D1siCtrl_vs_D1siBrd4',c:'D0siCtrl_vs_D0siBrd4'}[datum.value]","title":null,"ticks":false,"labelFont":"Liberation Sans","labelFontWeight":"bold","labelFontSize":15,"labelAngle":-45,"labelAlign":"right","labelBaseline":"top","labelOffset":18,"labelColor":"#000000","labelPadding":12,"labelLimit":300}},"y":{"field":"r","type":"ordinal","scale":{"paddingInner":0,"paddingOuter":0},"axis":null},"color":{"field":"v","type":"quantitative","scale":{"domain":[-7.4,0,7.4],"range":["#00ff00","#000000","#ff0000"]},"legend":null}}},
{"width":2,"height":1,"data":{"name":"one"},"mark":"text","encoding":{}},
{"width":6,"height":255,"data":{"name":"leaf"},"mark":{"type":"rule","stroke":"#222222","strokeWidth":1.2},"encoding":{"x":{"field":"e","type":"quantitative","scale":{"domain":[177,157],"nice":false,"zero":false},"axis":null},"x2":{"field":"t"},"y":{"field":"n","type":"quantitative","scale":{"domain":[25,790],"reverse":true,"nice":false,"zero":false},"axis":null}}}
],"bounds":"flush","spacing":0,"resolve":{"scale":{"color":"independent","fill":"independent","theta":"independent"}}}
],"bounds":"flush","spacing":0,"resolve":{"scale":{"color":"independent","fill":"independent","theta":"independent"}}},
{"width":269.7,"height":1,"data":{"name":"one"},"mark":"text","encoding":{}},
{"vconcat":[
{"width":9.6,"height":24,"data":{"name":"one"},"mark":{"type":"text","text":"C","fontSize":20,"fontWeight":"bold","align":"center","baseline":"middle"},"encoding":{}},
{"width":1,"height":4,"data":{"name":"one"},"mark":"text","encoding":{}},
{"hconcat":[
{"width":2.3,"height":1,"data":{"name":"one"},"mark":"text","encoding":{}},
{"width":327,"height":255,"view":{"stroke":"#888888"},"encoding":{"x":{"field":"v","type":"quantitative","scale":{"domain":[0,45],"nice":false},"axis":{"values":[0,5,10,15,20,25,30,35,40,45],"title":"-log10(P)","labelFont":"DejaVu Sans","titleFont":"DejaVu Sans","labelFontSize":8,"titleFontSize":8,"labelColor":"#333333","titleColor":"#333333","tickSize":3,"tickColor":"#888888","labelPadding":2,"titlePadding":2}}},"layer":[
{"data":{"name":"thr"},"mark":{"type":"rule","stroke":"#cccccc","strokeWidth":1},"encoding":{}},
{"data":{"name":"d0"},"mark":{"type":"bar","stroke":"#4d2608","strokeWidth":1},"encoding":{"y":{"field":"t","type":"nominal","sort":null,"scale":{"paddingInner":0.2,"paddingOuter":0.6},"axis":{"orient":"right","title":null,"ticks":false,"labelFont":"DejaVu Sans","labelFontSize":8.8,"labelColor":"#333333","labelPadding":3,"labelLimit":330}},"color":{"field":"g","type":"nominal","scale":{"domain":["h","m","l"],"range":["#993300","#e0600f","#ff9a28"]},"legend":null}}},
{"data":{"name":"tag"},"transform":[{"filter":"datum.l=='D0'"}],"mark":{"type":"text","fontSize":21,"fontWeight":"bold","dy":3,"color":"#000000"},"encoding":{"x":{"field":"x"},"y":{"field":"t","type":"nominal","sort":null},"text":{"field":"l"}}}]}
],"bounds":"flush","spacing":0,"resolve":{"scale":{"color":"independent","fill":"independent","theta":"independent"}}},
{"width":1,"height":296,"data":{"name":"one"},"mark":"text","encoding":{}},
{"width":343,"height":266,"view":{"stroke":"#888888"},"encoding":{"x":{"field":"v","type":"quantitative","scale":{"domain":[0,25],"nice":false},"axis":{"values":[0,5,10,15,20,25],"title":"-log10(P)","labelFont":"DejaVu Sans","titleFont":"DejaVu Sans","labelFontSize":8,"titleFontSize":8,"labelColor":"#333333","titleColor":"#333333","tickSize":3,"tickColor":"#888888","labelPadding":2,"titlePadding":2}}},"layer":[
{"data":{"name":"thr"},"mark":{"type":"rule","stroke":"#cccccc","strokeWidth":1},"encoding":{}},
{"data":{"name":"d1"},"mark":{"type":"bar","stroke":"#4d2608","strokeWidth":1},"encoding":{"y":{"field":"t","type":"nominal","sort":null,"scale":{"paddingInner":0.2,"paddingOuter":0.6},"axis":{"orient":"right","title":null,"ticks":false,"labelFont":"DejaVu Sans","labelFontSize":9.2,"labelColor":"#333333","labelPadding":2,"labelLimit":330}},"color":{"field":"g","type":"nominal","scale":{"domain":["h","m","l"],"range":["#993300","#e0600f","#ff9a28"]},"legend":null}}},
{"data":{"name":"tag"},"transform":[{"filter":"datum.l=='D1'"}],"mark":{"type":"text","fontSize":21,"fontWeight":"bold","dy":3,"color":"#000000"},"encoding":{"x":{"field":"x"},"y":{"field":"t","type":"nominal","sort":null},"text":{"field":"l"}}}]}
],"bounds":"flush","spacing":0,"resolve":{"scale":{"color":"independent","fill":"independent","theta":"independent"}}}
],"bounds":"flush","spacing":0,"resolve":{"scale":{"color":"independent","fill":"independent","theta":"independent"}}},
{"width":1,"height":699,"data":{"name":"one"},"mark":"text","encoding":{}},
{"hconcat":[
{"width":28,"height":200,"title":{"text":"D","fontSize":20,"anchor":"start","dy":17,"dx":1},"data":{"name":"one"},"mark":"text","encoding":{}},
{"width":27,"height":200,"data":{"name":"one"},"mark":{"type":"text","text":"D0","angle":270,"fontSize":20,"fontWeight":"bold","align":"center","baseline":"middle"},"encoding":{}},
{"width":200,"height":200,"view":{"fill":"#efe9d8","stroke":null},"title":{"text":"Enrichment plot: HALLMARK_MYOGENESIS","dy":12},"data":{"name":"frame"},"resolve":{"scale":{"y":"independent","fill":"independent"}},"encoding":{"x":{"field":"x","type":"quantitative","scale":{"domain":[-1197,9538],"nice":false,"zero":false},"axis":{"offset":-26,"values":[0,1000,2000,3000,4000,5000,6000,7000,8000,9000],"format":",.0f","title":"Rank in Ordered Dataset","titleFontSize":5}}},"layer":[
{"layer":[{"mark":{"type":"rect","fill":"#ffffff","stroke":"#aaaaaa","strokeWidth":0.5},"encoding":{"x2":{"field":"x2"},"y":{"datum":3.505,"axis":null,"scale":{"domain":[0,1],"range":[121,89.7]}},"y2":{"datum":-1.703}}},{"data":{"name":"band"},"mark":"rect","encoding":{"x2":{"field":"x2"},"y":{"datum":0,"axis":null},"y2":{"datum":0.2},"fill":{"field":"s","type":"ordinal","scale":{"range":["#ff4d4d","#ff7070","#ff9090","#ffb8e0","#ccccff","#9090f5","#6060e8","#4848e0","#0000c8"]},"legend":null}}},{"data":{"name":"hits"},"transform":[{"filter":"datum.c==1"}],"mark":{"type":"rule","strokeWidth":1,"opacity":0.7},"encoding":{"y":{"datum":0.21,"axis":null},"y2":{"datum":1},"color":{"datum":"Hits","scale":{"domain":["Enrichment profile","Hits","Ranking metric scores"]}}}}]},
{"layer":[{"mark":{"type":"rule","stroke":"#aaaaaa","strokeWidth":0.6},"encoding":{"x2":{"field":"x2"},"y":{"datum":0,"scale":{"domain":[-0.5,0.152],"range":[88.7,11.3]}}}},{"data":{"name":"es"},"transform":[{"filter":"datum.c==1"}],"mark":{"type":"line","strokeWidth":1.5},"encoding":{"y":{"field":"y","type":"quantitative","axis":{"orient":"left","offset":-22.3,"format":".1f","title":"Enrichment score (ES)","titleX":-15,"titleY":50,"values":[-0.5,-0.4,-0.3,-0.2,-0.1,0,0.1]}},"color":{"datum":"Enrichment profile"}}}]},
{"layer":[{"data":{"name":"rank"},"transform":[{"filter":"datum.r==0"}],"mark":"area","encoding":{"y":{"field":"m","type":"quantitative","scale":{"domain":[-5.85,8.7],"range":[174.3,121.3]},"axis":{"orient":"left","offset":-22.3,"format":".1f","title":"Ranked list metric (PreRanked)","titleX":-15,"titleY":147,"values":[-5,-2.5,0,2.5,5,7.5]}},"y2":{"datum":0},"color":{"datum":"Ranking metric scores"}}},{"data":{"name":"zero"},"transform":[{"filter":"datum.r==0"}],"mark":{"type":"rule","stroke":"#888888","strokeWidth":0.5,"strokeDash":[1,1]},"encoding":{"y":{"datum":8.7},"y2":{"datum":-5.85}}},{"data":{"name":"notes"},"transform":[{"filter":"datum.r==0"}],"mark":{"type":"text","align":"left","fontSize":4},"encoding":{"y":{"field":"y","type":"quantitative"},"text":{"field":"t"},"fill":{"field":"k","type":"nominal","scale":{"range":["#0000ff","#ff0000","#000000"]},"legend":null}}}]}]},
{"width":11,"height":1,"data":{"name":"one"},"mark":"text","encoding":{}},
{"width":200,"height":200,"view":{"fill":"#efe9d8","stroke":null},"title":{"text":["Enrichment plot:","GO_REGULATION_OF_MUSCLE_CONTRACTION"],"dy":22.5},"data":{"name":"frame"},"resolve":{"scale":{"y":"independent","fill":"independent"}},"encoding":{"x":{"field":"x","type":"quantitative","scale":{"domain":[-1197,9538],"nice":false,"zero":false},"axis":{"offset":-26,"values":[0,1000,2000,3000,4000,5000,6000,7000,8000,9000],"format":",.0f","title":"Rank in Ordered Dataset","titleFontSize":5}}},"layer":[
{"layer":[{"mark":{"type":"rect","fill":"#ffffff","stroke":"#aaaaaa","strokeWidth":0.5},"encoding":{"x2":{"field":"x2"},"y":{"datum":3.343,"axis":null,"scale":{"domain":[0,1],"range":[124.3,93.7]}},"y2":{"datum":-1.624}}},{"data":{"name":"band"},"mark":"rect","encoding":{"x2":{"field":"x2"},"y":{"datum":0,"axis":null},"y2":{"datum":0.2},"fill":{"field":"s","type":"ordinal","scale":{"range":["#ff4d4d","#ff7070","#ff9090","#ffb8e0","#ccccff","#9090f5","#6060e8","#4848e0","#0000c8"]},"legend":null}}},{"data":{"name":"hits"},"transform":[{"filter":"datum.c==2"}],"mark":{"type":"rule","strokeWidth":1,"opacity":0.7},"encoding":{"y":{"datum":0.21,"axis":null},"y2":{"datum":1},"color":{"datum":"Hits","scale":{"domain":["Enrichment profile","Hits","Ranking metric scores"]}}}}]},
{"layer":[{"mark":{"type":"rule","stroke":"#aaaaaa","strokeWidth":0.6},"encoding":{"x2":{"field":"x2"},"y":{"datum":0,"scale":{"domain":[-0.652,0.036],"range":[92.7,22]}}}},{"data":{"name":"es"},"transform":[{"filter":"datum.c==2"}],"mark":{"type":"line","strokeWidth":1.5},"encoding":{"y":{"field":"y","type":"quantitative","axis":{"orient":"left","offset":-22.3,"format":".1f","title":"Enrichment score (ES)","titleX":-15,"titleY":57,"values":[-0.6,-0.5,-0.4,-0.3,-0.2,-0.1,0]}},"color":{"datum":"Enrichment profile"}}}]},
{"layer":[{"data":{"name":"rank"},"transform":[{"filter":"datum.r==0"}],"mark":"area","encoding":{"y":{"field":"m","type":"quantitative","scale":{"domain":[-5.9,8.8],"range":[174,124.3]},"axis":{"orient":"left","offset":-22.3,"format":".1f","title":"Ranked list metric (PreRanked)","titleX":-15,"titleY":147,"values":[-5,-2.5,0,2.5,5,7.5]}},"y2":{"datum":0},"color":{"datum":"Ranking metric scores"}}},{"data":{"name":"zero"},"transform":[{"filter":"datum.r==0"}],"mark":{"type":"rule","stroke":"#888888","strokeWidth":0.5,"strokeDash":[1,1]},"encoding":{"y":{"datum":8.8},"y2":{"datum":-5.9}}},{"data":{"name":"notes"},"transform":[{"filter":"datum.r==0"}],"mark":{"type":"text","align":"left","fontSize":4},"encoding":{"y":{"field":"y","type":"quantitative"},"text":{"field":"t"},"fill":{"field":"k","type":"nominal","scale":{"range":["#0000ff","#ff0000","#000000"]},"legend":null}}}]}]},
{"width":12,"height":1,"data":{"name":"one"},"mark":"text","encoding":{}},
{"width":200,"height":200,"view":{"fill":"#efe9d8","stroke":null},"title":{"text":"Enrichment plot: GO_T_TUBULE","dy":12},"data":{"name":"frame"},"resolve":{"scale":{"y":"independent","fill":"independent"}},"encoding":{"x":{"field":"x","type":"quantitative","scale":{"domain":[-1197,9538],"nice":false,"zero":false},"axis":{"offset":-26,"values":[0,1000,2000,3000,4000,5000,6000,7000,8000,9000],"format":",.0f","title":"Rank in Ordered Dataset","titleFontSize":5}}},"layer":[
{"layer":[{"mark":{"type":"rect","fill":"#ffffff","stroke":"#aaaaaa","strokeWidth":0.5},"encoding":{"x2":{"field":"x2"},"y":{"datum":3.505,"axis":null,"scale":{"domain":[0,1],"range":[121,89.7]}},"y2":{"datum":-1.703}}},{"data":{"name":"band"},"mark":"rect","encoding":{"x2":{"field":"x2"},"y":{"datum":0,"axis":null},"y2":{"datum":0.2},"fill":{"field":"s","type":"ordinal","scale":{"range":["#ff4d4d","#ff7070","#ff9090","#ffb8e0","#ccccff","#9090f5","#6060e8","#4848e0","#0000c8"]},"legend":null}}},{"data":{"name":"hits"},"transform":[{"filter":"datum.c==3"}],"mark":{"type":"rule","strokeWidth":1,"opacity":0.7},"encoding":{"y":{"datum":0.21,"axis":null},"y2":{"datum":1},"color":{"datum":"Hits","scale":{"domain":["Enrichment profile","Hits","Ranking metric scores"]}}}}]},
{"layer":[{"mark":{"type":"rule","stroke":"#aaaaaa","strokeWidth":0.6},"encoding":{"x2":{"field":"x2"},"y":{"datum":0,"scale":{"domain":[-0.745,0.037],"range":[88.7,11.3]}}}},{"data":{"name":"es"},"transform":[{"filter":"datum.c==3"}],"mark":{"type":"line","strokeWidth":1.5},"encoding":{"y":{"field":"y","type":"quantitative","axis":{"orient":"left","offset":-22.3,"format":".1f","title":"Enrichment score (ES)","titleX":-15,"titleY":50,"values":[-0.7,-0.6,-0.5,-0.4,-0.3,-0.2,-0.1,0]}},"color":{"datum":"Enrichment profile"}}}]},
{"layer":[{"data":{"name":"rank"},"transform":[{"filter":"datum.r==0"}],"mark":"area","encoding":{"y":{"field":"m","type":"quantitative","scale":{"domain":[-5.85,8.7],"range":[174.3,121.3]},"axis":{"orient":"left","offset":-22.3,"format":".1f","title":"Ranked list metric (PreRanked)","titleX":-15,"titleY":147,"values":[-5,-2.5,0,2.5,5,7.5]}},"y2":{"datum":0},"color":{"datum":"Ranking metric scores"}}},{"data":{"name":"zero"},"transform":[{"filter":"datum.r==0"}],"mark":{"type":"rule","stroke":"#888888","strokeWidth":0.5,"strokeDash":[1,1]},"encoding":{"y":{"datum":8.7},"y2":{"datum":-5.85}}},{"data":{"name":"notes"},"transform":[{"filter":"datum.r==0"}],"mark":{"type":"text","align":"left","fontSize":4},"encoding":{"y":{"field":"y","type":"quantitative"},"text":{"field":"t"},"fill":{"field":"k","type":"nominal","scale":{"range":["#0000ff","#ff0000","#000000"]},"legend":null}}}]}]},
{"width":13,"height":1,"data":{"name":"one"},"mark":"text","encoding":{}},
{"width":200,"height":200,"view":{"fill":"#efe9d8","stroke":null},"title":{"text":"Enrichment plot: GO_SARCOPLASM","dy":12},"data":{"name":"frame"},"resolve":{"scale":{"y":"independent","fill":"independent"}},"encoding":{"x":{"field":"x","type":"quantitative","scale":{"domain":[-1197,9538],"nice":false,"zero":false},"axis":{"offset":-26,"values":[0,1000,2000,3000,4000,5000,6000,7000,8000,9000],"format":",.0f","title":"Rank in Ordered Dataset","titleFontSize":5}}},"layer":[
{"layer":[{"mark":{"type":"rect","fill":"#ffffff","stroke":"#aaaaaa","strokeWidth":0.5},"encoding":{"x2":{"field":"x2"},"y":{"datum":3.505,"axis":null,"scale":{"domain":[0,1],"range":[121,89.7]}},"y2":{"datum":-1.703}}},{"data":{"name":"band"},"mark":"rect","encoding":{"x2":{"field":"x2"},"y":{"datum":0,"axis":null},"y2":{"datum":0.2},"fill":{"field":"s","type":"ordinal","scale":{"range":["#ff4d4d","#ff7070","#ff9090","#ffb8e0","#ccccff","#9090f5","#6060e8","#4848e0","#0000c8"]},"legend":null}}},{"data":{"name":"hits"},"transform":[{"filter":"datum.c==4"}],"mark":{"type":"rule","strokeWidth":1,"opacity":0.7},"encoding":{"y":{"datum":0.21,"axis":null},"y2":{"datum":1},"color":{"datum":"Hits","scale":{"domain":["Enrichment profile","Hits","Ranking metric scores"]}}}}]},
{"layer":[{"mark":{"type":"rule","stroke":"#aaaaaa","strokeWidth":0.6},"encoding":{"x2":{"field":"x2"},"y":{"datum":0,"scale":{"domain":[-0.723,0.033],"range":[88.7,11.3]}}}},{"data":{"name":"es"},"transform":[{"filter":"datum.c==4"}],"mark":{"type":"line","strokeWidth":1.5},"encoding":{"y":{"field":"y","type":"quantitative","axis":{"orient":"left","offset":-22.3,"format":".1f","title":"Enrichment score (ES)","titleX":-15,"titleY":50,"values":[-0.7,-0.6,-0.5,-0.4,-0.3,-0.2,-0.1,0]}},"color":{"datum":"Enrichment profile"}}}]},
{"layer":[{"data":{"name":"rank"},"transform":[{"filter":"datum.r==0"}],"mark":"area","encoding":{"y":{"field":"m","type":"quantitative","scale":{"domain":[-5.85,8.7],"range":[174.3,121.3]},"axis":{"orient":"left","offset":-22.3,"format":".1f","title":"Ranked list metric (PreRanked)","titleX":-15,"titleY":147,"values":[-5,-2.5,0,2.5,5,7.5]}},"y2":{"datum":0},"color":{"datum":"Ranking metric scores"}}},{"data":{"name":"zero"},"transform":[{"filter":"datum.r==0"}],"mark":{"type":"rule","stroke":"#888888","strokeWidth":0.5,"strokeDash":[1,1]},"encoding":{"y":{"datum":8.7},"y2":{"datum":-5.85}}},{"data":{"name":"notes"},"transform":[{"filter":"datum.r==0"}],"mark":{"type":"text","align":"left","fontSize":4},"encoding":{"y":{"field":"y","type":"quantitative"},"text":{"field":"t"},"fill":{"field":"k","type":"nominal","scale":{"range":["#0000ff","#ff0000","#000000"]},"legend":null}}}]}]},
{"width":22,"height":1,"data":{"name":"one"},"mark":"text","encoding":{}}
],"bounds":"flush","spacing":0,"resolve":{"scale":{"color":"independent","fill":"independent","theta":"independent"}}},
{"width":1,"height":208,"data":{"name":"one"},"mark":"text","encoding":{}},
{"hconcat":[
{"width":28,"height":200,"data":{"name":"one"},"mark":"text","encoding":{}},
{"width":27,"height":200,"data":{"name":"one"},"mark":{"type":"text","text":"D1","angle":270,"fontSize":20,"fontWeight":"bold","align":"center","baseline":"middle"},"encoding":{}},
{"width":200,"height":200,"view":{"fill":"#efe9d8","stroke":null},"title":{"text":"Enrichment plot: HALLMARK_MYOGENESIS","dy":12},"data":{"name":"frame"},"resolve":{"scale":{"y":"independent","fill":"independent"}},"encoding":{"x":{"field":"x","type":"quantitative","scale":{"domain":[-1197,9538],"nice":false,"zero":false},"axis":{"offset":-26,"values":[0,1000,2000,3000,4000,5000,6000,7000,8000,9000],"format":",.0f","title":"Rank in Ordered Dataset","titleFontSize":5}}},"layer":[
{"layer":[{"mark":{"type":"rect","fill":"#ffffff","stroke":"#aaaaaa","strokeWidth":0.5},"encoding":{"x2":{"field":"x2"},"y":{"datum":3.44,"axis":null,"scale":{"domain":[0,1],"range":[121.3,89.3]}},"y2":{"datum":-1.647}}},{"data":{"name":"band"},"mark":"rect","encoding":{"x2":{"field":"x2"},"y":{"datum":0,"axis":null},"y2":{"datum":0.2},"fill":{"field":"s","type":"ordinal","scale":{"range":["#ff4d4d","#ff7070","#ff9090","#ffb8e0","#ccccff","#9090f5","#6060e8","#4848e0","#0000c8"]},"legend":null}}},{"data":{"name":"hits"},"transform":[{"filter":"datum.c==5"}],"mark":{"type":"rule","strokeWidth":1,"opacity":0.7},"encoding":{"y":{"datum":0.21,"axis":null},"y2":{"datum":1},"color":{"datum":"Hits","scale":{"domain":["Enrichment profile","Hits","Ranking metric scores"]}}}}]},
{"layer":[{"mark":{"type":"rule","stroke":"#aaaaaa","strokeWidth":0.6},"encoding":{"x2":{"field":"x2"},"y":{"datum":0,"scale":{"domain":[-0.7,0.038],"range":[88.3,11.3]}}}},{"data":{"name":"es"},"transform":[{"filter":"datum.c==5"}],"mark":{"type":"line","strokeWidth":1.5},"encoding":{"y":{"field":"y","type":"quantitative","axis":{"orient":"left","offset":-22.3,"format":".1f","title":"Enrichment score (ES)","titleX":-15,"titleY":50,"values":[-0.7,-0.6,-0.5,-0.4,-0.3,-0.2,-0.1,0]}},"color":{"datum":"Enrichment profile"}}}]},
{"layer":[{"data":{"name":"rank"},"transform":[{"filter":"datum.r==1"}],"mark":"area","encoding":{"y":{"field":"m","type":"quantitative","scale":{"domain":[-5.2,4.94],"range":[174,121.3]},"axis":{"orient":"left","offset":-22.3,"format":".1f","title":"Ranked list metric (PreRanked)","titleX":-15,"titleY":146,"values":[-2.5,0,2.5]}},"y2":{"datum":0},"color":{"datum":"Ranking metric scores"}}},{"data":{"name":"zero"},"transform":[{"filter":"datum.r==1"}],"mark":{"type":"rule","stroke":"#888888","strokeWidth":0.5,"strokeDash":[1,1]},"encoding":{"y":{"datum":4.94},"y2":{"datum":-5.2}}},{"data":{"name":"notes"},"transform":[{"filter":"datum.r==1"}],"mark":{"type":"text","align":"left","fontSize":4},"encoding":{"y":{"field":"y","type":"quantitative"},"text":{"field":"t"},"fill":{"field":"k","type":"nominal","scale":{"range":["#0000ff","#ff0000","#000000"]},"legend":null}}}]}]},
{"width":11,"height":1,"data":{"name":"one"},"mark":"text","encoding":{}},
{"width":200,"height":200,"view":{"fill":"#efe9d8","stroke":null},"title":{"text":"Enrichment plot: GO_MUSCLE_CONTRACTION","dy":12},"data":{"name":"frame"},"resolve":{"scale":{"y":"independent","fill":"independent"}},"encoding":{"x":{"field":"x","type":"quantitative","scale":{"domain":[-1197,9538],"nice":false,"zero":false},"axis":{"offset":-26,"values":[0,1000,2000,3000,4000,5000,6000,7000,8000,9000],"format":",.0f","title":"Rank in Ordered Dataset","titleFontSize":5}}},"layer":[
{"layer":[{"mark":{"type":"rect","fill":"#ffffff","stroke":"#aaaaaa","strokeWidth":0.5},"encoding":{"x2":{"field":"x2"},"y":{"datum":3.44,"axis":null,"scale":{"domain":[0,1],"range":[121.3,89.3]}},"y2":{"datum":-1.647}}},{"data":{"name":"band"},"mark":"rect","encoding":{"x2":{"field":"x2"},"y":{"datum":0,"axis":null},"y2":{"datum":0.2},"fill":{"field":"s","type":"ordinal","scale":{"range":["#ff4d4d","#ff7070","#ff9090","#ffb8e0","#ccccff","#9090f5","#6060e8","#4848e0","#0000c8"]},"legend":null}}},{"data":{"name":"hits"},"transform":[{"filter":"datum.c==6"}],"mark":{"type":"rule","strokeWidth":1,"opacity":0.7},"encoding":{"y":{"datum":0.21,"axis":null},"y2":{"datum":1},"color":{"datum":"Hits","scale":{"domain":["Enrichment profile","Hits","Ranking metric scores"]}}}}]},
{"layer":[{"mark":{"type":"rule","stroke":"#aaaaaa","strokeWidth":0.6},"encoding":{"x2":{"field":"x2"},"y":{"datum":0,"scale":{"domain":[-0.696,0.066],"range":[88.3,11.3]}}}},{"data":{"name":"es"},"transform":[{"filter":"datum.c==6"}],"mark":{"type":"line","strokeWidth":1.5},"encoding":{"y":{"field":"y","type":"quantitative","axis":{"orient":"left","offset":-22.3,"format":".1f","title":"Enrichment score (ES)","titleX":-15,"titleY":50,"values":[-0.6,-0.5,-0.4,-0.3,-0.2,-0.1,0]}},"color":{"datum":"Enrichment profile"}}}]},
{"layer":[{"data":{"name":"rank"},"transform":[{"filter":"datum.r==1"}],"mark":"area","encoding":{"y":{"field":"m","type":"quantitative","scale":{"domain":[-5.2,4.94],"range":[174,121.3]},"axis":{"orient":"left","offset":-22.3,"format":".1f","title":"Ranked list metric (PreRanked)","titleX":-15,"titleY":146,"values":[-2.5,0,2.5]}},"y2":{"datum":0},"color":{"datum":"Ranking metric scores"}}},{"data":{"name":"zero"},"transform":[{"filter":"datum.r==1"}],"mark":{"type":"rule","stroke":"#888888","strokeWidth":0.5,"strokeDash":[1,1]},"encoding":{"y":{"datum":4.94},"y2":{"datum":-5.2}}},{"data":{"name":"notes"},"transform":[{"filter":"datum.r==1"}],"mark":{"type":"text","align":"left","fontSize":4},"encoding":{"y":{"field":"y","type":"quantitative"},"text":{"field":"t"},"fill":{"field":"k","type":"nominal","scale":{"range":["#0000ff","#ff0000","#000000"]},"legend":null}}}]}]},
{"width":11.5,"height":1,"data":{"name":"one"},"mark":"text","encoding":{}},
{"width":200,"height":200,"view":{"fill":"#efe9d8","stroke":null},"title":{"text":["Enrichment plot:","GO_STRUCTURAL_CONSTITUENT_OF_MUSCLE"],"dy":22.5},"data":{"name":"frame"},"resolve":{"scale":{"y":"independent","fill":"independent"}},"encoding":{"x":{"field":"x","type":"quantitative","scale":{"domain":[-1197,9538],"nice":false,"zero":false},"axis":{"offset":-27.5,"values":[0,1000,2000,3000,4000,5000,6000,7000,8000,9000],"format":",.0f","title":"Rank in Ordered Dataset","titleFontSize":5}}},"layer":[
{"layer":[{"mark":{"type":"rect","fill":"#ffffff","stroke":"#aaaaaa","strokeWidth":0.5},"encoding":{"x2":{"field":"x2"},"y":{"datum":3.342,"axis":null,"scale":{"domain":[0,1],"range":[124.3,93.3]}},"y2":{"datum":-1.548}}},{"data":{"name":"band"},"mark":"rect","encoding":{"x2":{"field":"x2"},"y":{"datum":0,"axis":null},"y2":{"datum":0.2},"fill":{"field":"s","type":"ordinal","scale":{"range":["#ff4d4d","#ff7070","#ff9090","#ffb8e0","#ccccff","#9090f5","#6060e8","#4848e0","#0000c8"]},"legend":null}}},{"data":{"name":"hits"},"transform":[{"filter":"datum.c==7"}],"mark":{"type":"rule","strokeWidth":1,"opacity":0.7},"encoding":{"y":{"datum":0.21,"axis":null},"y2":{"datum":1},"color":{"datum":"Hits","scale":{"domain":["Enrichment profile","Hits","Ranking metric scores"]}}}}]},
{"layer":[{"mark":{"type":"rule","stroke":"#aaaaaa","strokeWidth":0.6},"encoding":{"x2":{"field":"x2"},"y":{"datum":0,"scale":{"domain":[-0.811,0.035],"range":[92.3,20.7]}}}},{"data":{"name":"es"},"transform":[{"filter":"datum.c==7"}],"mark":{"type":"line","strokeWidth":1.5},"encoding":{"y":{"field":"y","type":"quantitative","axis":{"orient":"left","offset":-22.3,"format":".1f","title":"Enrichment score (ES)","titleX":-15,"titleY":56.5,"values":[-0.8,-0.7,-0.6,-0.5,-0.4,-0.3,-0.2,-0.1,0]}},"color":{"datum":"Enrichment profile"}}}]},
{"layer":[{"data":{"name":"rank"},"transform":[{"filter":"datum.r==1"}],"mark":"area","encoding":{"y":{"field":"m","type":"quantitative","scale":{"domain":[-4.73,4.73],"range":[172.3,124.3]},"axis":{"orient":"left","offset":-22.3,"format":".1f","title":"Ranked list metric (PreRanked)","titleX":-15,"titleY":148,"values":[-2.5,0,2.5]}},"y2":{"datum":0},"color":{"datum":"Ranking metric scores"}}},{"data":{"name":"zero"},"transform":[{"filter":"datum.r==1"}],"mark":{"type":"rule","stroke":"#888888","strokeWidth":0.5,"strokeDash":[1,1]},"encoding":{"y":{"datum":4.73},"y2":{"datum":-4.73}}},{"data":{"name":"notes"},"transform":[{"filter":"datum.r==1"}],"mark":{"type":"text","align":"left","fontSize":4},"encoding":{"y":{"field":"y","type":"quantitative"},"text":{"field":"t"},"fill":{"field":"k","type":"nominal","scale":{"range":["#0000ff","#ff0000","#000000"]},"legend":null}}}]}]},
{"width":12.5,"height":1,"data":{"name":"one"},"mark":"text","encoding":{}},
{"width":200,"height":200,"view":{"fill":"#efe9d8","stroke":null},"title":{"text":"Enrichment plot: GO_SARCOPLASM","dy":12},"data":{"name":"frame"},"resolve":{"scale":{"y":"independent","fill":"independent"}},"encoding":{"x":{"field":"x","type":"quantitative","scale":{"domain":[-1197,9538],"nice":false,"zero":false},"axis":{"offset":-26,"values":[0,1000,2000,3000,4000,5000,6000,7000,8000,9000],"format":",.0f","title":"Rank in Ordered Dataset","titleFontSize":5}}},"layer":[
{"layer":[{"mark":{"type":"rect","fill":"#ffffff","stroke":"#aaaaaa","strokeWidth":0.5},"encoding":{"x2":{"field":"x2"},"y":{"datum":3.44,"axis":null,"scale":{"domain":[0,1],"range":[121.3,89.3]}},"y2":{"datum":-1.647}}},{"data":{"name":"band"},"mark":"rect","encoding":{"x2":{"field":"x2"},"y":{"datum":0,"axis":null},"y2":{"datum":0.2},"fill":{"field":"s","type":"ordinal","scale":{"range":["#ff4d4d","#ff7070","#ff9090","#ffb8e0","#ccccff","#9090f5","#6060e8","#4848e0","#0000c8"]},"legend":null}}},{"data":{"name":"hits"},"transform":[{"filter":"datum.c==8"}],"mark":{"type":"rule","strokeWidth":1,"opacity":0.7},"encoding":{"y":{"datum":0.21,"axis":null},"y2":{"datum":1},"color":{"datum":"Hits","scale":{"domain":["Enrichment profile","Hits","Ranking metric scores"]}}}}]},
{"layer":[{"mark":{"type":"rule","stroke":"#aaaaaa","strokeWidth":0.6},"encoding":{"x2":{"field":"x2"},"y":{"datum":0,"scale":{"domain":[-0.744,0.03],"range":[88.3,11.3]}}}},{"data":{"name":"es"},"transform":[{"filter":"datum.c==8"}],"mark":{"type":"line","strokeWidth":1.5},"encoding":{"y":{"field":"y","type":"quantitative","axis":{"orient":"left","offset":-22.3,"format":".1f","title":"Enrichment score (ES)","titleX":-15,"titleY":50,"values":[-0.7,-0.6,-0.5,-0.4,-0.3,-0.2,-0.1,0]}},"color":{"datum":"Enrichment profile"}}}]},
{"layer":[{"data":{"name":"rank"},"transform":[{"filter":"datum.r==1"}],"mark":"area","encoding":{"y":{"field":"m","type":"quantitative","scale":{"domain":[-5.2,4.94],"range":[174,121.3]},"axis":{"orient":"left","offset":-22.3,"format":".1f","title":"Ranked list metric (PreRanked)","titleX":-15,"titleY":146,"values":[-2.5,0,2.5]}},"y2":{"datum":0},"color":{"datum":"Ranking metric scores"}}},{"data":{"name":"zero"},"transform":[{"filter":"datum.r==1"}],"mark":{"type":"rule","stroke":"#888888","strokeWidth":0.5,"strokeDash":[1,1]},"encoding":{"y":{"datum":4.94},"y2":{"datum":-5.2}}},{"data":{"name":"notes"},"transform":[{"filter":"datum.r==1"}],"mark":{"type":"text","align":"left","fontSize":4},"encoding":{"y":{"field":"y","type":"quantitative"},"text":{"field":"t"},"fill":{"field":"k","type":"nominal","scale":{"range":["#0000ff","#ff0000","#000000"]},"legend":null}}}]}]},
{"width":22,"height":1,"data":{"name":"one"},"mark":"text","encoding":{}}
],"bounds":"flush","spacing":0,"resolve":{"scale":{"color":"independent","fill":"independent","theta":"independent"}}},
{"width":1,"height":200,"data":{"name":"one"},"mark":"text","encoding":{}}
]}
